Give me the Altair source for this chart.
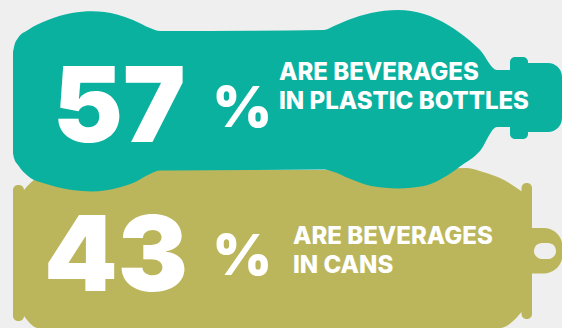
import altair as alt
import pandas as pd

BG = "#efefef"
TEAL = "#0ab19f"
OLIVE = "#bbb65b"
FONT = "Inter"

# Bottle outlines on the canvas grid
teal_x = [13, 14, 18, 28, 48, 72, 92, 117, 133, 150, 160, 170, 250, 324, 334, 348, 371, 398, 424, 448, 460, 480, 497, 512]
teal_top = [52, 47, 38, 30, 20, 13, 11.3, 14.5, 20, 28, 31, 31, 30.7, 30, 26, 20, 13, 10, 14, 25, 33, 50, 70, 70]
teal_bot = [153, 158, 165, 176, 184.5, 190, 191.5, 188, 183, 174, 170.5, 170.5, 170, 169.5, 172, 178, 186, 188.5, 186, 175, 166.5, 151, 127, 127]

olive_x = [24, 38, 100, 300, 400, 467, 483, 500, 524]
olive_top = [190, 178, 170, 170, 170, 168, 172, 178, 193]
olive_bot = [316, 328, 328, 328, 328, 328, 328, 328, 309]

# Caps, collars and the hanging ring: colour, x, x2, y, y2, corner radius, rounded on the right only
parts = [
    (TEAL, 510, 528, 57, 139, 5, False),
    (TEAL, 520, 562, 63, 132, 14, True),
    (OLIVE, 13, 24, 185, 321, 5, False),
    (OLIVE, 521.5, 532, 183, 319, 5, False),
    (OLIVE, 525, 562.5, 228, 273.5, 22, True),
    (BG, 534, 556, 243, 259, 8, False),
]

# Headline figures and captions
shares = [57, 43]
share_x = [53, 44]
share_y = [142, 291]
percent_y = [126.5, 274.5]
caption_rows = [
    ("ARE BEVERAGES", 279, 79.5),
    ("IN PLASTIC BOTTLES", 279, 108.5),
    ("ARE BEVERAGES", 293, 243.5),
    ("IN CANS", 293, 272.5),
]

x_scale = alt.Scale(domain=[0, 562], nice=False, zero=False)
y_scale = alt.Scale(domain=[328, 0], nice=False, zero=False)
X = alt.X("x:Q", scale=x_scale, axis=None)
Y = alt.Y("y:Q", scale=y_scale, axis=None)


def body(xs, top, bot, color):
    df = pd.DataFrame({"x": xs, "y": top, "y2": bot})
    return alt.Chart(df).mark_area(color=color, interpolate="monotone", opacity=1).encode(
        x=X, y=Y, y2="y2:Q"
    )


def part(color, x0, x1, y0, y1, r, right_only):
    df = pd.DataFrame({"x": [x0], "x2": [x1], "y": [y0], "y2": [y1]})
    if right_only:
        mark = alt.Chart(df).mark_rect(
            color=color, cornerRadiusTopRight=r, cornerRadiusBottomRight=r, opacity=1
        )
    else:
        mark = alt.Chart(df).mark_rect(color=color, cornerRadius=r, opacity=1)
    return mark.encode(x=X, x2="x2:Q", y=Y, y2="y2:Q")


olive_parts = [part(*p) for p in parts[2:]]
teal_parts = [part(*p) for p in parts[:2]]

share_df = pd.DataFrame({"label": [str(s) for s in shares], "x": share_x, "y": share_y})
share_text = alt.Chart(share_df).mark_text(
    align="left", baseline="alphabetic", font=FONT, fontWeight=900, fontSize=105, color="white"
).encode(x=X, y=Y, text="label:N")

pct_df = pd.DataFrame({"label": ["%", "%"], "x": [212.5, 212.5], "y": percent_y})
pct_text = alt.Chart(pct_df).mark_text(
    align="left", baseline="alphabetic", font=FONT, fontWeight=900, fontSize=57, color="white"
).encode(x=X, y=Y, text="label:N")

cap_df = pd.DataFrame(caption_rows, columns=["label", "x", "y"])
cap_text = alt.Chart(cap_df).mark_text(
    align="left", baseline="alphabetic", font=FONT, fontWeight=800, fontSize=24, color="white"
).encode(x=X, y=Y, text="label:N")

chart = alt.layer(
    body(olive_x, olive_top, olive_bot, OLIVE),
    *olive_parts,
    body(teal_x, teal_top, teal_bot, TEAL),
    *teal_parts,
    share_text,
    pct_text,
    cap_text,
).properties(
    width=562,
    height=328,
    padding=0,
    background=BG,
    autosize=alt.AutoSizeParams(type="none"),
).configure_view(stroke=None)

chart.save("out.html", embed_options={"renderer": "svg", "actions": False})
